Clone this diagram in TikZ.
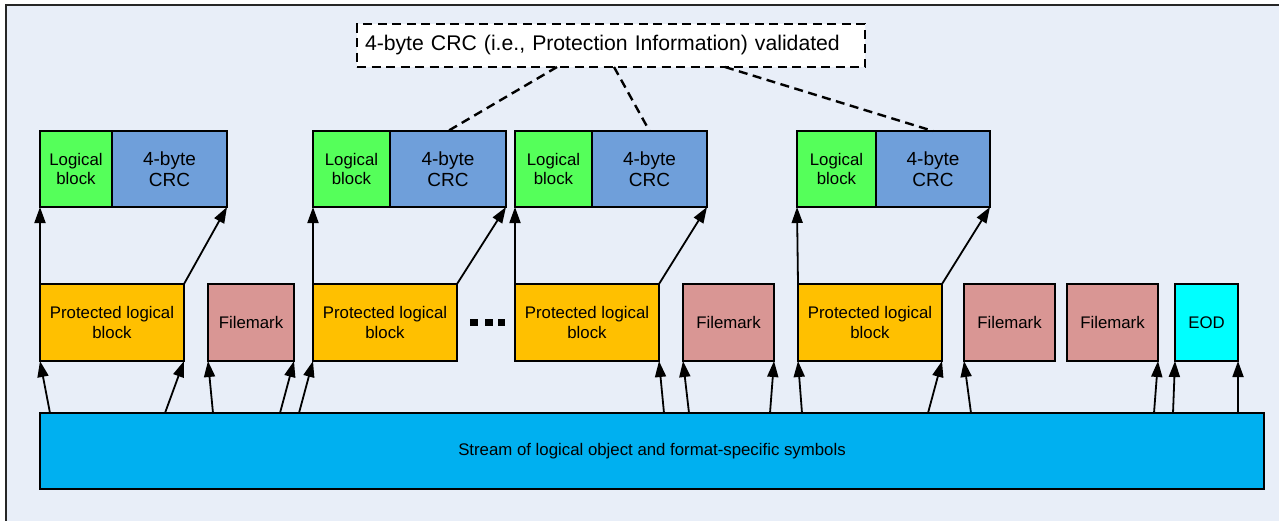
\documentclass[tikz,border=0pt]{standalone}
\usepackage{fontspec}
\setmainfont{Liberation Sans}
\usetikzlibrary{arrows.meta}
\definecolor{lbgreen}{HTML}{55FF5A}
\definecolor{crcblue}{HTML}{6F9FDA}
\definecolor{plbgold}{HTML}{FFC000}
\definecolor{fmpink}{HTML}{D99694}
\definecolor{eodcyan}{HTML}{00FFFF}
\definecolor{streamblue}{HTML}{00B0F0}
\definecolor{panel}{HTML}{E8EEF8}

\begin{document}
\begin{tikzpicture}[x=1pt,y=-1pt,
  every node/.style={font=\fontsize{16.8}{19.5}\selectfont,text=black},
  main node/.style={draw=black,line width=1.6pt,rectangle,inner sep=0pt,outer sep=0pt,
    minimum height=76pt,align=center},
  lb node/.style={main node,fill=lbgreen,minimum width=#1},
  crc node/.style={main node,fill=crcblue,minimum width=#1,font=\fontsize{19}{21.5}\selectfont},
  plb node/.style={main node,fill=plbgold,minimum width=144pt,minimum height=77pt},
  fm node/.style={main node,fill=fmpink,minimum width=#1,minimum height=77pt},
  link/.style={draw=black,-{Triangle[length=16pt,width=11pt]},line width=1.8pt},
  check/.style={draw=black,line width=2.4pt,dash pattern=on 9pt off 5.5pt}]

  \useasboundingbox (0,0) rectangle (1279,520);
  \fill[panel] (6,5) rectangle (1290,530);
  \draw[line width=2pt,black!85] (6,530) -- (6,5) -- (1290,5);

  % logical block + crc pairs
  \node[lb node=72pt] (0) at (76,169) {Logical\\block};
  \node[crc node=115pt] (1) at (169.5,169) {4-byte\\CRC};
  \node[lb node=77pt] (2) at (351.5,169) {Logical\\block};
  \node[crc node=116pt] (3) at (448,169) {4-byte\\CRC};
  \node[lb node=77pt] (4) at (553.5,169) {Logical\\block};
  \node[crc node=115pt] (5) at (649.5,169) {4-byte\\CRC};
  \node[lb node=79pt] (6) at (836.5,169) {Logical\\block};
  \node[crc node=114pt] (7) at (933,169) {4-byte\\CRC};

  % objects in the stream
  \node[plb node] (10) at (112,322.5) {Protected logical\\block};
  \node[fm node=86pt] (11) at (251,322.5) {Filemark};
  \node[plb node] (12) at (385,322.5) {Protected logical\\block};
  \node[plb node] (13) at (587,322.5) {Protected logical\\block};
  \node[fm node=91pt] (14) at (728.5,322.5) {Filemark};
  \node[plb node] (15) at (870,322.5) {Protected logical\\block};
  \node[fm node=91pt] (16) at (1009.5,322.5) {Filemark};
  \node[fm node=91pt] (17) at (1112.5,322.5) {Filemark};
  \node[main node,fill=eodcyan,minimum width=63pt,minimum height=77pt] (18) at (1206.5,322.5) {EOD};

  \foreach \x in {470,485,497.5}
    \fill (\x,318.5) rectangle +(7.5,7);

  \node[main node,fill=streamblue,minimum width=1224pt] (20) at (652,451)
    {Stream of logical object and format-specific symbols};

  \node[check,fill=white,rectangle,inner xsep=8pt,inner ysep=0pt,outer sep=0pt,
    text width=492pt,minimum height=43pt,align=left,font=\fontsize{21.2}{24}\selectfont]
    (21) at (611,45.5) {4-byte CRC (i.e., Protection Information) validated};

  \path[every edge/.style={link}]
    (50,0 |- 20.north) edge (10.south west)
    (165,0 |- 20.north) edge (10.south east)
    (213,0 |- 20.north) edge (11.south west)
    (280,0 |- 20.north) edge (11.south east)
    (299,0 |- 20.north) edge (12.south west)
    (664,0 |- 20.north) edge (13.south east)
    (689,0 |- 20.north) edge (14.south west)
    (770,0 |- 20.north) edge (14.south east)
    (802,0 |- 20.north) edge (15.south west)
    (928,0 |- 20.north) edge (15.south east)
    (971,0 |- 20.north) edge (16.south west)
    (1154,0 |- 20.north) edge (17.south east)
    (1173,0 |- 20.north) edge (18.south west)
    (1238,0 |- 20.north) edge (18.south east)
    (10.north west) edge (0.south west)
    (10.north east) edge (1.south east)
    (12.north west) edge (2.south west)
    (12.north east) edge (3.south east)
    (13.north west) edge (4.south west)
    (13.north east) edge (5.south east)
    (15.north west) edge (6.south west)
    (15.north east) edge (7.south east)
;
  \path[every edge/.style={check}]
    (557,0 |- 21.south) edge (3.north)
    (614,0 |- 21.south) edge (5.north)
    (725,0 |- 21.south) edge (7.north)
;
\end{tikzpicture}
\end{document}
